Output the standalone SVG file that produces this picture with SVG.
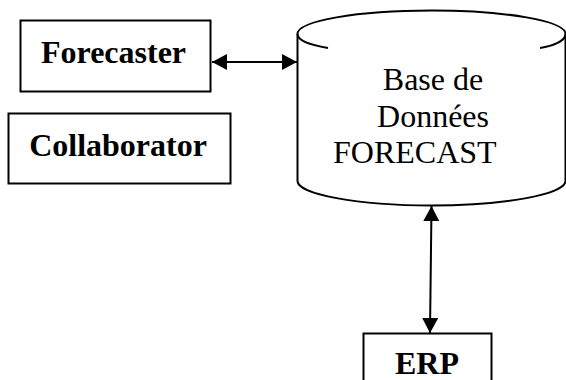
<svg xmlns="http://www.w3.org/2000/svg" width="566" height="380" viewBox="0 0 566 380">
<style>
.box{fill:#fff;stroke:#000;stroke-width:2}
.line{fill:none;stroke:#000;stroke-width:2}
.b{font-family:"Liberation Serif","Times New Roman",serif;font-weight:bold;font-size:32px;fill:#000;text-anchor:middle}
.r{font-family:"Liberation Serif","Times New Roman",serif;font-size:32px;fill:#000}
</style>
<defs>
<marker id="a" markerUnits="userSpaceOnUse" markerWidth="16" markerHeight="16" refX="15" refY="8" orient="auto-start-reverse"><path d="M0 0L15 8L0 16Z" fill="#000"/></marker>
</defs>
<rect width="566" height="380" fill="#fff"/>
<g id="connectors">
<line class="line" x1="212" y1="62" x2="297" y2="62" marker-start="url(#a)" marker-end="url(#a)"/>
<line class="line" x1="431.500" y1="206" x2="430" y2="333" marker-start="url(#a)" marker-end="url(#a)"/>
</g>
<g id="forecaster">
<rect class="box" x="20.500" y="20.500" width="190" height="71"/>
<text class="b" x="113.500" y="63">Forecaster</text>
</g>
<g id="collaborator">
<rect class="box" x="8.500" y="113.500" width="222" height="70"/>
<text class="b" x="118" y="155.500">Collaborator</text>
</g>
<g id="database">
<path class="line" d="M297.500 34C297.500 21 357 10.500 431.500 10.500S565.500 21 565.500 34V181C565.500 194 506 205.500 431.500 205.500S297.500 194 297.500 181Z"/>
<path class="line" d="M297.500 34C297.500 41 310 45 328 48M540 48C553 46 565.500 41 565.500 34"/>
<text class="r" x="433" y="90" text-anchor="middle">Base de</text>
<text class="r" x="433" y="127" text-anchor="middle">Données</text>
<text class="r" x="333" y="163">FORECAST</text>
</g>
<g id="erp">
<rect class="box" x="363.500" y="333.500" width="128" height="60"/>
<text class="b" x="427" y="374">ERP</text>
</g>
</svg>
